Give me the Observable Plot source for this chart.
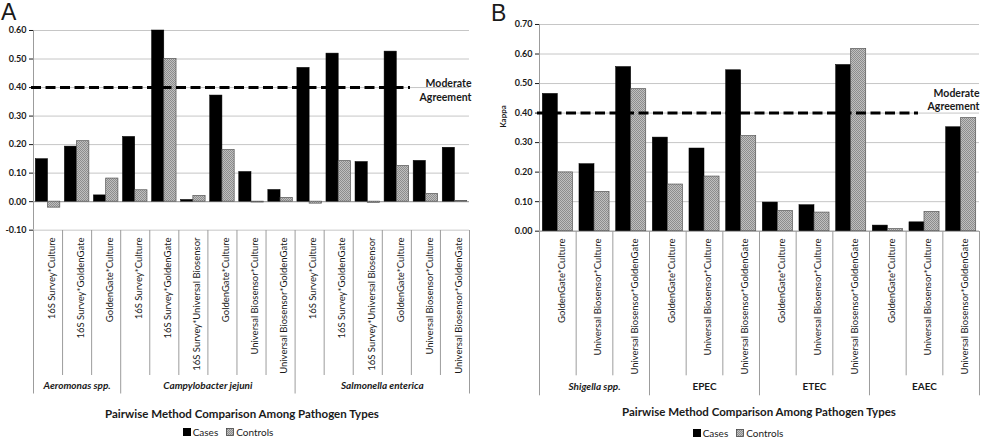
<!DOCTYPE html>
<html>
<head>
<meta charset="utf-8">
<script src="https://cdn.jsdelivr.net/npm/d3@7"></script>
<script src="https://cdn.jsdelivr.net/npm/@observablehq/plot@0.6"></script>
<style>
  body { margin: 0; background: #fff; font-family: Lato, "Open Sans", sans-serif; color: #1a1a1a; }
  #page { position: relative; width: 984px; height: 438px; overflow: hidden; background: #fff; }
  .letter { font-family: "Liberation Sans", Arial, sans-serif; font-size: 23px; line-height: 1; }
  .xtitle { font-weight: bold; font-size: 11.5px; text-align: center; white-space: nowrap; width: 360px; }
  .legend { font-size: 10px; display: flex; justify-content: center; align-items: center; width: 200px; white-space: nowrap; }
  .legend .sw { display: inline-block; width: 8px; height: 8px; margin-right: 2px; box-sizing: border-box; }
  .legend .item { display: inline-flex; align-items: center; margin: 0 4px; }
</style>
</head>
<body>
<svg width="0" height="0" style="position:absolute">
  <defs>
    <pattern id="ctrlHatch" width="2" height="2" patternUnits="userSpaceOnUse">
      <rect width="2" height="2" fill="#c0c0c0"/>
      <rect width="1" height="1" fill="#8c8c8c"/>
      <rect x="1" y="1" width="1" height="1" fill="#8c8c8c"/>
    </pattern>
  </defs>
</svg>
<div id="page"></div>
<script>
// ---- Panel A: pairwise kappa, Aeromonas / Campylobacter / Salmonella ----
const labelsA = [
  "16S Survey*Culture", "16S Survey*GoldenGate", "GoldenGate*Culture",
  "16S Survey*Culture", "16S Survey*GoldenGate", "16S Survey*Universal Biosensor",
  "GoldenGate*Culture", "Universal Biosensor*Culture", "Universal Biosensor*GoldenGate",
  "16S Survey*Culture", "16S Survey*GoldenGate", "16S Survey*Universal Biosensor",
  "GoldenGate*Culture", "Universal Biosensor*Culture", "Universal Biosensor*GoldenGate"
];
const groupNamesA = ["Aeromonas spp.", "Campylobacter jejuni", "Salmonella enterica"];
const groupSizesA = [3, 6, 6];
const groupItalicA = [true, true, true];
const casesA    = [0.149, 0.193, 0.022, 0.227, 0.600, 0.006, 0.372, 0.104, 0.041, 0.469, 0.519, 0.139, 0.526, 0.143, 0.189];
const controlsA = [-0.021, 0.212, 0.081, 0.040, 0.500, 0.020, 0.181, -0.003, 0.013, -0.007, 0.142, -0.004, 0.125, 0.027, 0.002];
const ticksA = [-0.1, 0, 0.1, 0.2, 0.3, 0.4, 0.5, 0.6];

// ---- Panel B: pairwise kappa, Shigella and E. coli pathotypes ----
const labelsB = [
  "GoldenGate*Culture", "Universal Biosensor*Culture", "Universal Biosensor*GoldenGate",
  "GoldenGate*Culture", "Universal Biosensor*Culture", "Universal Biosensor*GoldenGate",
  "GoldenGate*Culture", "Universal Biosensor*Culture", "Universal Biosensor*GoldenGate",
  "GoldenGate*Culture", "Universal Biosensor*Culture", "Universal Biosensor*GoldenGate"
];
const groupNamesB = ["Shigella spp.", "EPEC", "ETEC", "EAEC"];
const groupSizesB = [3, 3, 3, 3];
const groupItalicB = [true, false, false, false];
const casesB    = [0.465, 0.227, 0.556, 0.317, 0.280, 0.545, 0.097, 0.088, 0.563, 0.019, 0.030, 0.352];
const controlsB = [0.199, 0.133, 0.481, 0.158, 0.185, 0.322, 0.068, 0.063, 0.617, 0.007, 0.065, 0.383];
const ticksB = [0, 0.1, 0.2, 0.3, 0.4, 0.5, 0.6, 0.7];

// Threshold for "moderate" agreement (Landis & Koch)
const moderateKappa = 0.40;
const seriesNames = ["Cases", "Controls"];

const page = document.getElementById("page");
const GRID = "#c6c6c6", AXIS = "#9c9c9c";

function place(node, left, top) {
  node.style.position = "absolute";
  node.style.left = left + "px";
  node.style.top = top + "px";
  page.appendChild(node);
}

function drawPanel(cfg) {
  const n = cfg.labels.length;
  const bw = (cfg.width - cfg.marginLeft - cfg.marginRight) / n;
  const cases = cfg.cases.map((v, i) => ({i, value: v}));
  const controls = cfg.controls.map((v, i) => ({i, value: v}));
  const yMin = cfg.ticks[0];

  const chart = Plot.plot({
    width: cfg.width,
    height: cfg.chartHeight,
    marginLeft: cfg.marginLeft,
    marginRight: cfg.marginRight,
    marginTop: cfg.marginTop,
    marginBottom: 0,
    style: {background: "transparent", overflow: "visible", fontFamily: "Lato, 'Open Sans', sans-serif", fontSize: "9px", fontWeight: "bold", color: "#1a1a1a"},
    x: {domain: [0, n], axis: null},
    y: {domain: [yMin, cfg.ticks[cfg.ticks.length - 1]], ticks: cfg.ticks, tickFormat: d => d.toFixed(2), tickSize: 4, tickPadding: 3, label: null},
    marks: [
      Plot.ruleY(cfg.ticks, {stroke: GRID, strokeWidth: 1}),
      Plot.ruleY([0], {stroke: AXIS}),
      Plot.ruleX([0], {stroke: AXIS}),
      Plot.rectY(cases, {x1: "i", x2: d => d.i + 1, y: "value", fill: "#000", stroke: "#000", strokeWidth: 0.5,
        insetLeft: cfg.gap, insetRight: bw / 2}),
      Plot.rectY(controls, {x1: "i", x2: d => d.i + 1, y: "value", fill: "url(#ctrlHatch)", stroke: "#555", strokeWidth: 0.7,
        insetLeft: bw / 2, insetRight: cfg.gap}),
      Plot.ruleY([moderateKappa], {stroke: "#000", strokeWidth: 3, strokeDasharray: "10,4.5",
        insetLeft: -2, insetRight: cfg.dashInsetRight}),
      Plot.text([moderateKappa], {y: d => d, text: () => "Moderate\nAgreement", frameAnchor: "right",
        textAnchor: "end", dx: cfg.noteDx, dy: cfg.noteDy, fontSize: 10.5, fontWeight: "bold", lineHeight: 1.3}),
      ...(cfg.yLabel ? [Plot.text([cfg.yLabel], {frameAnchor: "left", rotate: -90, dx: cfg.yLabelDx, fontSize: 8, fontWeight: "bold"})] : [])
    ]
  });
  place(chart, cfg.left, 0);

  // Category table beneath the bars
  const rows = cfg.labels.map((label, i) => ({i, label}));
  const groupEdges = [0];
  const groups = [];
  cfg.groupSizes.forEach((s, k) => {
    const start = groupEdges[groupEdges.length - 1];
    groups.push({name: cfg.groupNames[k], mid: start + s / 2, italic: cfg.groupItalic[k]});
    groupEdges.push(start + s);
  });
  const innerEdges = d3.range(1, n).filter(e => !groupEdges.includes(e));

  const table = Plot.plot({
    width: cfg.width,
    height: cfg.tableHeight,
    marginLeft: cfg.marginLeft,
    marginRight: cfg.marginRight,
    marginTop: 0,
    marginBottom: 0,
    style: {background: "transparent", overflow: "visible", fontFamily: "Lato, 'Open Sans', sans-serif", color: "#1a1a1a"},
    x: {domain: [0, n], axis: null},
    marks: [
      Plot.ruleX(innerEdges, {stroke: AXIS, insetBottom: cfg.innerInset}),
      Plot.ruleX(groupEdges, {stroke: AXIS}),
      Plot.text(rows, {x: d => d.i + 0.5, text: "label", rotate: -90, textAnchor: "end", frameAnchor: "top",
        dy: 7, fontSize: 9.5}),
      Plot.text(groups.filter(g => g.italic), {x: "mid", text: "name", frameAnchor: "bottom", dy: cfg.groupDy,
        fontSize: 10, fontWeight: "bold", fontStyle: "italic"}),
      Plot.text(groups.filter(g => !g.italic), {x: "mid", text: "name", frameAnchor: "bottom", dy: cfg.groupDy,
        fontSize: 10, fontWeight: "bold"})
    ]
  });
  place(table, cfg.left, cfg.tableTop);

  // Axis title and legend
  const title = document.createElement("div");
  title.className = "xtitle";
  title.textContent = "Pairwise Method Comparison Among Pathogen Types";
  place(title, cfg.titleCenter - 180, cfg.titleTop);

  const legend = document.createElement("div");
  legend.className = "legend";
  legend.innerHTML =
    `<span class="item"><svg class="sw" width="8" height="8"><rect width="8" height="8" fill="#000"/></svg>${seriesNames[0]}</span>` +
    `<span class="item"><svg class="sw" width="8" height="8"><rect x="0.5" y="0.5" width="7" height="7" fill="url(#ctrlHatch)" stroke="#444" stroke-width="0.8"/></svg>${seriesNames[1]}</span>`;
  place(legend, cfg.legendCenter - 100, cfg.legendTop);

  const letter = document.createElement("div");
  letter.className = "letter";
  letter.textContent = cfg.letter;
  place(letter, cfg.letterLeft, cfg.letterTop);
}

drawPanel({
  letter: "A", letterLeft: 1, letterTop: 1,
  left: 0, width: 484, marginLeft: 33, marginRight: 15, marginTop: 30, chartHeight: 229.7,
  labels: labelsA, cases: casesA, controls: controlsA, ticks: ticksA,
  groupNames: groupNamesA, groupSizes: groupSizesA, groupItalic: groupItalicA,
  gap: 2.3, dashInsetRight: 59, noteDx: 2, noteDy: 2,
  tableTop: 229.7, tableHeight: 163.5, innerInset: 18.5, groupDy: -5,
  titleCenter: 242, titleTop: 407, legendCenter: 228, legendTop: 426
});

drawPanel({
  letter: "B", letterLeft: 491, letterTop: 2,
  left: 490, width: 494, marginLeft: 49, marginRight: 5, marginTop: 24, chartHeight: 230.7,
  labels: labelsB, cases: casesB, controls: controlsB, ticks: ticksB,
  groupNames: groupNamesB, groupSizes: groupSizesB, groupItalic: groupItalicB,
  gap: 3.3, dashInsetRight: 61, noteDx: 0, noteDy: -14,
  yLabel: "Kappa", yLabelDx: -36,
  tableTop: 230.7, tableHeight: 164.3, innerInset: 20, groupDy: -6,
  titleCenter: 759, titleTop: 405, legendCenter: 738, legendTop: 427
});
</script>
</body>
</html>
